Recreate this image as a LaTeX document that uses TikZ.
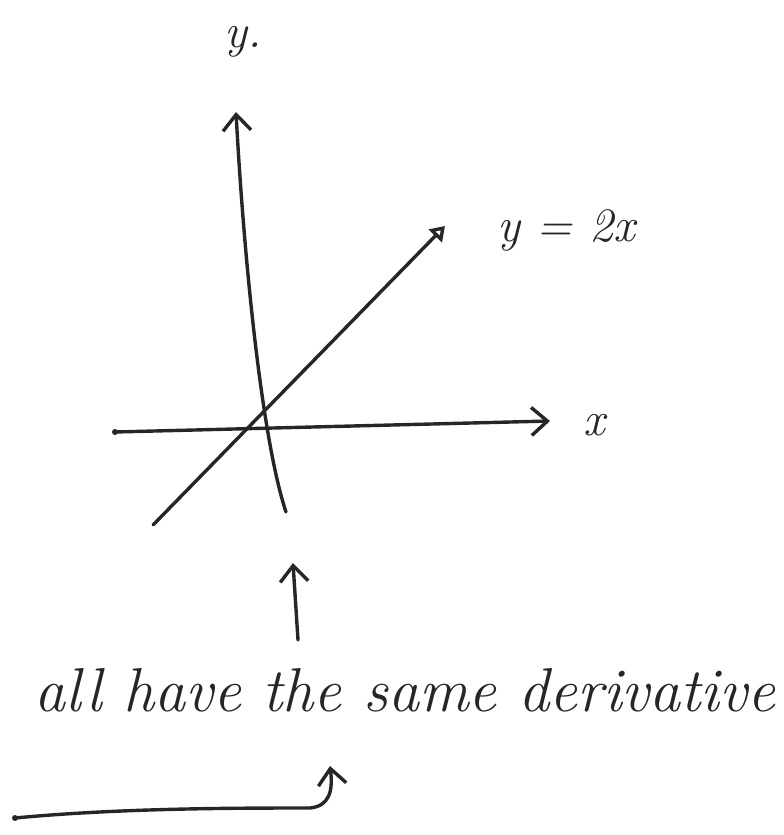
\documentclass[tikz,border=0pt]{standalone}
\usetikzlibrary{arrows.meta}
\begin{document}
\begin{tikzpicture}[x=1pt,y=-1pt,
  pen/.style={line width=3.4pt,draw=black!85,line cap=round,line join=round},
  openhead/.style={-{Straight Barb[length=16pt,width=28pt,line width=3.4pt]}},
  trihead/.style={-{Triangle[open,length=14pt,width=18pt,line width=3.4pt]}},
  hand/.style={font=\fontsize{48}{54}\selectfont\itshape,text=black!85,inner sep=0pt}]
\useasboundingbox (0,0) rectangle (784,835);
% coordinates
\coordinate (ybot) at (286,512);
\coordinate (ytop) at (236,112);
\coordinate (xleft) at (115,432);
\coordinate (xright) at (550,421);
\coordinate (lstart) at (153,525);
\coordinate (lend) at (445,226);
\coordinate (ustart) at (298,640);
\coordinate (uend) at (293,563);
\coordinate (bstart) at (15,818);
\coordinate (bend) at (330,766);
% axes
\draw[pen,openhead] (ybot) .. controls (262,440) and (244,260) .. (ytop);
\draw[pen,openhead] (xleft) -- (xright);
\fill[black!85] (xleft) circle (3pt);
\draw[pen,trihead] (lstart) -- (lend);
% labels
\node[hand] (ylab) at (243,42) {y.};
\node[hand] (xlab) at (594,425) {x};
\node[hand] (eq) at (566,230) {y = 2x};
% pointer arrow
\draw[pen,openhead] (ustart) -- (uend);
\node[hand,font=\fontsize{62}{70}\selectfont\itshape] (txt) at (405,690) {all have the same derivative};
% bottom arrow
\draw[pen,openhead] (bstart) .. controls (120,808) and (240,808) .. (310,808)
  .. controls (330,806) and (333,790) .. (bend);
\fill[black!85] (bstart) circle (3pt);
\end{tikzpicture}
\end{document}
